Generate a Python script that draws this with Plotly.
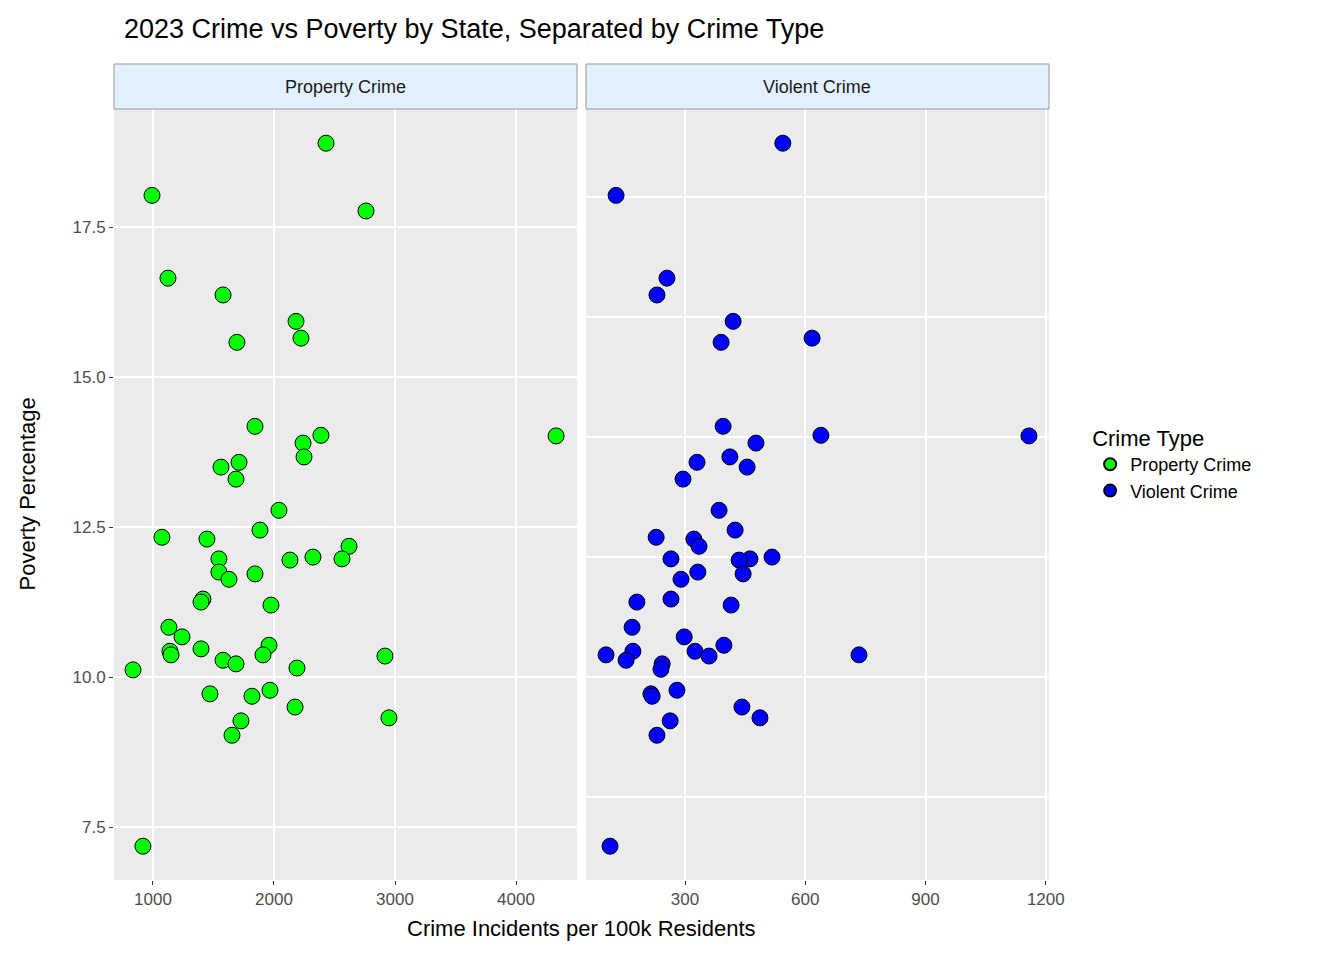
import plotly.graph_objects as go
from plotly.subplots import make_subplots

prop_x = [2430, 992, 2760, 1124, 1579, 2182, 2223, 1694, 1843, 4331, 2388, 2240, 2248, 1711, 1562, 1686,
          2041, 1884, 1074, 1446, 2620, 1545, 2322, 2132, 2562, 1545, 1843, 1628, 1413, 1397, 1975, 1132,
          1240, 1140, 1149, 1397, 1959, 1909, 2917, 1579, 1686, 2190, 835, 1471, 1967, 1818, 2174, 2950,
          1727, 1653, 917]
prop_y = [18.9, 18.03, 17.77, 16.65, 16.37, 15.93, 15.65, 15.58, 14.18, 14.02, 14.03, 13.9, 13.67, 13.58,
          13.5, 13.3, 12.78, 12.45, 12.33, 12.3, 12.18, 11.97, 12.0, 11.95, 11.97, 11.75, 11.72, 11.63, 11.3,
          11.25, 11.2, 10.83, 10.67, 10.43, 10.37, 10.47, 10.53, 10.37, 10.35, 10.28, 10.22, 10.15, 10.12,
          9.72, 9.78, 9.68, 9.5, 9.32, 9.27, 9.03, 7.18]
viol_x = [544, 128, 255, 230, 420, 617, 390, 395, 1158, 639, 477, 412, 330, 455, 295, 385, 425, 228, 322,
          517, 335, 265, 462, 435, 332, 445, 290, 180, 265, 415, 168, 298, 170, 325, 397, 103, 360, 734,
          153, 243, 240, 215, 280, 218, 442, 487, 263, 230, 113]
viol_y = [18.9, 18.03, 16.65, 16.37, 15.93, 15.65, 15.58, 14.18, 14.02, 14.03, 13.9, 13.67, 13.58, 13.5,
          13.3, 12.78, 12.45, 12.33, 12.3, 12.0, 12.18, 11.97, 11.97, 11.95, 11.75, 11.72, 11.63, 11.25,
          11.3, 11.2, 10.83, 10.67, 10.43, 10.43, 10.53, 10.37, 10.35, 10.37, 10.28, 10.22, 10.13, 9.72,
          9.78, 9.68, 9.5, 9.32, 9.27, 9.03, 7.18]

fig = make_subplots(rows=1, cols=2, shared_yaxes=True, horizontal_spacing=0.0096)
mk = dict(size=16, line=dict(color="black", width=1))
fig.add_trace(go.Scatter(x=prop_x, y=prop_y, mode="markers", name="Property Crime",
                         marker=dict(color="#00FF00", **mk)), 1, 1)
fig.add_trace(go.Scatter(x=viol_x, y=viol_y, mode="markers", name="Violent Crime",
                         marker=dict(color="#0000FF", **mk)), 1, 2)

ax = dict(showgrid=True, gridcolor="white", gridwidth=1.5, zeroline=False, ticks="outside",
          ticklen=4, tickcolor="#333", tickfont=dict(size=17, color="#4d4d4d"))
fig.update_xaxes(**ax)
fig.update_yaxes(**ax)
fig.update_xaxes(range=[678, 4504], tickvals=[1000, 2000, 3000, 4000], row=1, col=1)
fig.update_xaxes(range=[53, 1208], tickvals=[300, 600, 900, 1200], row=1, col=2)
fig.update_yaxes(range=[6.617, 19.47], tickvals=[7.5, 10, 12.5, 15, 17.5],
                 ticktext=["7.5", "10.0", "12.5", "15.0", "17.5"], row=1, col=1)
fig.update_yaxes(range=[6.617, 19.47], row=1, col=2, showticklabels=False, ticks="")
fig.update_xaxes(domain=[0, 0.4952], row=1, col=1)
fig.update_xaxes(domain=[0.5048, 1], row=1, col=2)

sh = 45 / 771
shapes = []
annots = []
for d0, d1, txt in [(0, 0.4952, "Property Crime"), (0.5048, 1, "Violent Crime")]:
    shapes.append(dict(type="rect", xref="paper", yref="paper", x0=d0, x1=d1, y0=1, y1=1 + sh,
                       fillcolor="#E3F0FF", line=dict(color="#999", width=1)))
    annots.append(dict(text=txt, xref="paper", yref="paper", x=(d0 + d1) / 2, y=1 + sh / 2,
                       xanchor="center", yanchor="middle",
                       showarrow=False, font=dict(size=18, color="#1a1a1a")))
annots.append(dict(text="Crime Incidents per 100k Residents", xref="paper", yref="paper", x=0.5,
                   y=-48 / 771, yanchor="middle", showarrow=False, font=dict(size=22, color="black")))
annots.append(dict(text="Poverty Percentage", xref="paper", yref="paper", x=-87 / 935, y=0.5,
                   xanchor="center", yanchor="middle",
                   textangle=-90, showarrow=False, font=dict(size=22, color="black")))

fig.update_layout(
    width=1344, height=960,
    margin=dict(l=106, r=303, t=101, b=88),
    plot_bgcolor="#EBEBEB", paper_bgcolor="white",
    font=dict(family="Liberation Sans, Arial, sans-serif"),
    title=dict(text="2023 Crime vs Poverty by State, Separated by Crime Type", x=116 / 1344, xanchor="left",
               y=1 - 21 / 960, yanchor="middle", font=dict(size=27, color="black")),
    legend=dict(title=dict(text="Crime Type", font=dict(size=22, color="black")), x=1.044, y=0.6,
                yanchor="top", font=dict(size=18, color="black"), itemsizing="constant",
                tracegroupgap=10),
    shapes=shapes, annotations=annots,
)
fig.write_html("out.html")
